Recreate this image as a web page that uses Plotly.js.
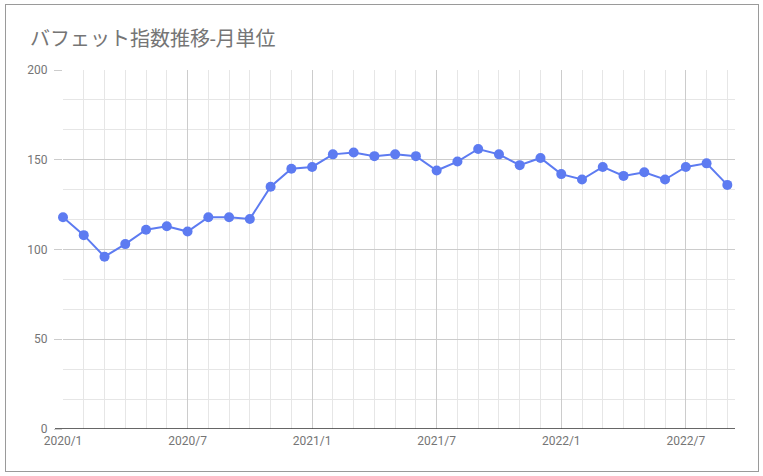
<!DOCTYPE html>
<html>
<head>
<meta charset="utf-8">
<script src="https://cdn.plot.ly/plotly-3.0.1.min.js"></script>
<style>
  html, body { margin: 0; padding: 0; background: #fff; }
  #wrap { position: relative; width: 763px; height: 476px; }
  #chart { width: 763px; height: 476px; }
  #frame { position: absolute; left: 5px; top: 4px; width: 752px; height: 466px;
           border: 1px solid #9a9a9a; box-sizing: content-box; pointer-events: none; }
</style>
</head>
<body>
<div id="wrap">
  <div id="chart"></div>
  <div id="frame"></div>
</div>
<script>
const months = [
  "2020/1","2020/2","2020/3","2020/4","2020/5","2020/6","2020/7","2020/8","2020/9","2020/10","2020/11","2020/12",
  "2021/1","2021/2","2021/3","2021/4","2021/5","2021/6","2021/7","2021/8","2021/9","2021/10","2021/11","2021/12",
  "2022/1","2022/2","2022/3","2022/4","2022/5","2022/6","2022/7","2022/8","2022/9"
];
const buffettIndex = [
  118,108,96,103,111,113,110,118,118,117,135,145,
  146,153,154,152,153,152,144,149,156,153,147,151,
  142,139,146,141,143,139,146,148,136
];
const xTickLabels = ["2020/1","2020/7","2021/1","2021/7","2022/1","2022/7"];
const titleText = "バフェット指数推移-月単位";

const xIdx = months.map((m, i) => i);
const xTickVals = xTickLabels.map(l => months.indexOf(l));

const FONT = "Roboto, 'Noto Sans CJK JP', sans-serif";

const trace = {
  x: xIdx,
  y: buffettIndex,
  text: months,
  type: "scatter",
  mode: "lines+markers",
  line: { color: "#5d7bf1", width: 2 },
  marker: { color: "#5d7bf1", size: 10 },
  cliponaxis: false,
  hovertemplate: "%{text}: %{y}<extra></extra>"
};

const layout = {
  width: 763, height: 476,
  margin: { l: 63, r: 28, t: 70, b: 47 },
  paper_bgcolor: "#fff", plot_bgcolor: "#fff",
  showlegend: false,
  font: { family: FONT, color: "#757575", size: 12 },
  title: {
    text: titleText,
    font: { family: FONT, size: 20, color: "#757575" },
    x: 30 / 763, xanchor: "left", xref: "container",
    y: 1 - 39 / 476, yanchor: "middle", yref: "container"
  },
  xaxis: {
    range: [0, 32.37],
    tickmode: "array", tickvals: xTickVals, ticktext: xTickLabels,
    showgrid: true, gridcolor: "#cccccc", gridwidth: 1,
    minor: { dtick: 1, tick0: 0, showgrid: true, gridcolor: "#e6e6e6", gridwidth: 1 },
    zeroline: false, showline: false, ticks: "",
    ticklabelstandoff: 3,
    tickfont: { family: FONT, size: 12, color: "#757575" },
    fixedrange: true
  },
  yaxis: {
    range: [0, 200],
    tickmode: "linear", tick0: 0, dtick: 50,
    showgrid: true, gridcolor: "#cccccc", gridwidth: 1,
    minor: { dtick: 50 / 3, tick0: 0, showgrid: true, gridcolor: "#e6e6e6", gridwidth: 1 },
    ticks: "outside", ticklen: 8, tickcolor: "#cccccc", tickwidth: 1,
    ticklabelstandoff: 4,
    zeroline: false, showline: false,
    tickfont: { family: FONT, size: 12, color: "#757575" },
    fixedrange: true
  },
  shapes: [
    { type: "line", xref: "paper", yref: "y", x0: -8 / 672, x1: 1, y0: 0, y1: 0,
      line: { color: "#333333", width: 1.5 }, layer: "above" }
  ]
};

Plotly.newPlot("chart", [trace], layout, { displayModeBar: false, staticPlot: true });
</script>
</body>
</html>
